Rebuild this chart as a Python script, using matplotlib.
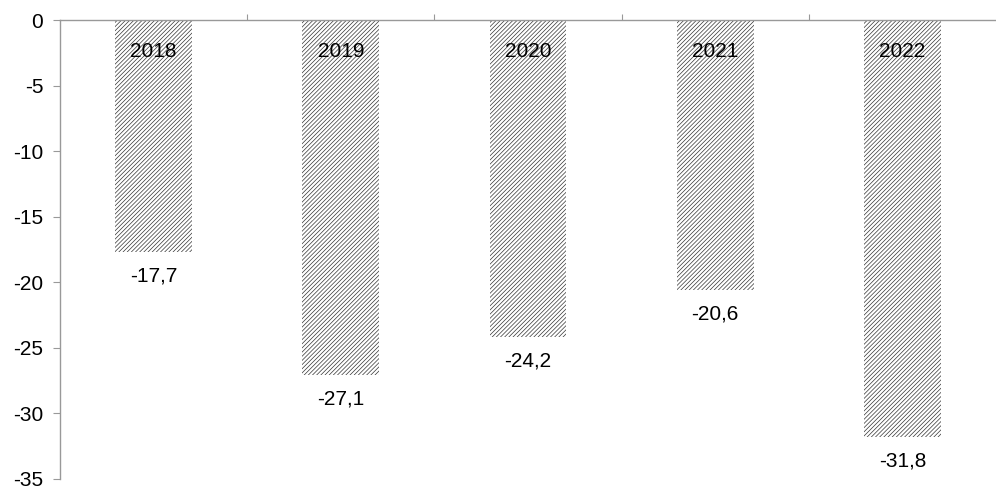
import matplotlib
matplotlib.use("Agg")
import matplotlib.pyplot as plt

# data
years = ["2018", "2019", "2020", "2021", "2022"]
values = [-17.7, -27.1, -24.2, -20.6, -31.8]
y_ticks = [0, -5, -10, -15, -20, -25, -30, -35]

plt.rcParams["font.family"] = ["Liberation Sans", "DejaVu Sans"]
plt.rcParams["hatch.linewidth"] = 0.5

fig = plt.figure(figsize=(9.96, 4.88), dpi=100)
ax = fig.add_axes([60 / 996, 1 - 479 / 488, 936 / 996, 459 / 488])

x = list(range(len(years)))
bars = ax.bar(x, values, width=0.41, color="white", edgecolor="#333333",
              hatch="////////", linewidth=0)

# year label near the top of each bar, value under it
for xi, yr, v in zip(x, years, values):
    ax.text(xi, -2.4, yr, ha="center", va="center", fontsize=15, color="black")
    ax.annotate(f"{v:.1f}".replace(".", ","), (xi, v), xytext=(0, -17),
                textcoords="offset points", ha="center", va="center",
                fontsize=15, color="black")

ax.set_xlim(-0.5, len(years) - 0.5)
ax.set_ylim(-35, 0)
ax.set_yticks(y_ticks)
ax.set_yticklabels([str(t) for t in y_ticks], fontsize=15)

# category boundary ticks on the zero line
ax.xaxis.set_ticks_position("top")
ax.set_xticks([i + 0.5 for i in range(len(years) - 1)])
ax.set_xticklabels([])
ax.tick_params(axis="x", direction="out", length=4, color="#999999")
ax.tick_params(axis="y", direction="out", length=5, color="#999999", pad=7)

for side in ["right", "bottom"]:
    ax.spines[side].set_visible(False)
for side in ["left", "top"]:
    ax.spines[side].set_color("#999999")
    ax.spines[side].set_linewidth(1)

fig.savefig("out.png", dpi=100)
